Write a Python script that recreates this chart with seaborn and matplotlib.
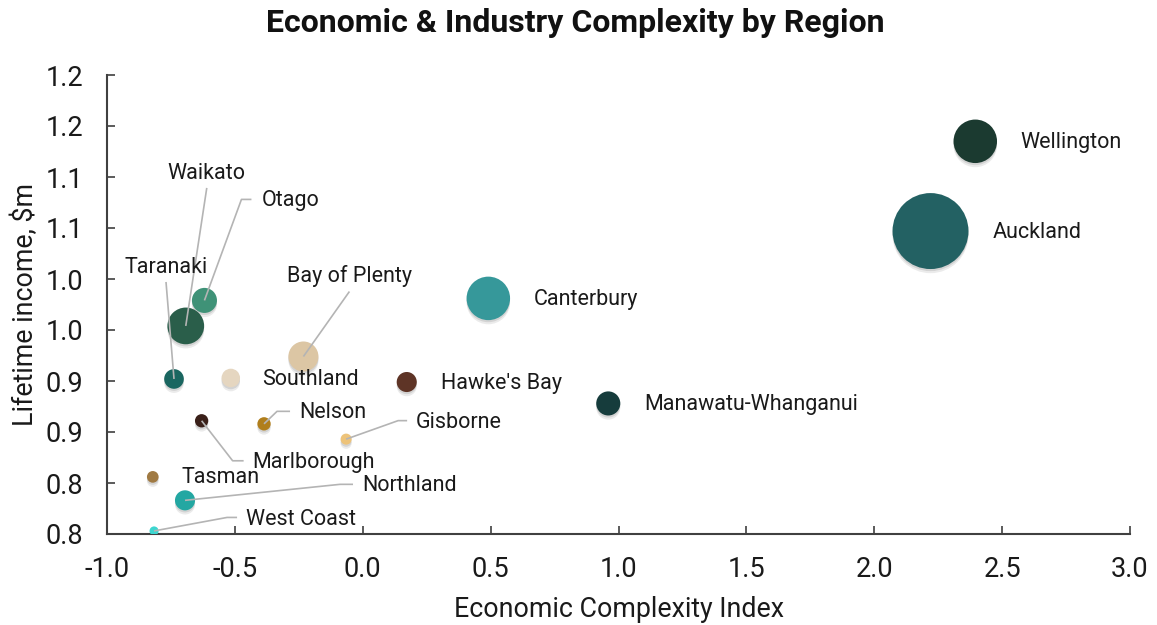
import numpy as np
import pandas as pd
import matplotlib
matplotlib.use("Agg")
import matplotlib.pyplot as plt
import matplotlib.patheffects as pe
import seaborn as sns

# =========================
# Data
# =========================
regions = ["Auckland", "Wellington", "Canterbury", "Waikato", "Bay of Plenty", "Otago",
           "Manawatu-Whanganui", "Northland", "Hawke's Bay", "Taranaki", "Southland",
           "Nelson", "Marlborough", "Tasman", "Gisborne", "West Coast"]
eci = [2.220, 2.395, 0.491, -0.692, -0.232, -0.619, 0.960, -0.695, 0.172, -0.738, -0.516,
       -0.386, -0.630, -0.821, -0.065, -0.816]
income = [1.047, 1.135, 0.981, 0.954, 0.924, 0.979, 0.878, 0.783, 0.899, 0.902, 0.903,
          0.858, 0.861, 0.806, 0.843, 0.753]
bubble = [1690, 554, 554, 395, 265, 184, 170, 118, 118, 113, 100, 52, 52, 40, 36, 24]

colors = ["#236163", "#1b3a30", "#36989a", "#2a5e4a", "#dcc6a4", "#3f9277",
          "#163c3c", "#23a7a2", "#5e3426", "#1a6660", "#e5d6c0",
          "#b07e1c", "#3a2019", "#a07a43", "#edc37a", "#3dd6d0"]

x_ticks = [-1.0, -0.5, 0.0, 0.5, 1.0, 1.5, 2.0, 2.5, 3.0]
x_tick_labels = ["-1.0", "-0.5", "0.0", "0.5", "1.0", "1.5", "2.0", "2.5", "3.0"]
y_ticks = [0.75, 0.80, 0.85, 0.90, 0.95, 1.00, 1.05, 1.10, 1.15, 1.20]
y_tick_labels = ["0.8", "0.8", "0.9", "0.9", "1.0", "1.0", "1.1", "1.1", "1.2", "1.2"]

df = pd.DataFrame({"Region": regions, "ECI": eci, "Income": income, "Size": bubble})

# label layout: text offset (px, y down) + leader path offsets
labels = {
    "Wellington": ((45, 0), "left", []),
    "Auckland": ((62, 0), "left", []),
    "Canterbury": ((45, 0), "left", []),
    "Hawke's Bay": ((34, 0), "left", []),
    "Manawatu-Whanganui": ((36, 0), "left", []),
    "Southland": ((31, 0), "left", []),
    "Tasman": ((29, -1), "left", []),
    "Gisborne": ((70, -18), "left", [(52, -18.5), (61, -18.5)]),
    "Nelson": ((35, -13), "left", [(13, -12.5), (26, -12.5)]),
    "Marlborough": ((51, 40), "left", [(31, 40), (42, 40)]),
    "Northland": ((177, -16), "left", [(155, -16), (168, -16)]),
    "West Coast": ((92, -13), "left", [(73, -13.5), (83, -13.5)]),
    "Taranaki": ((-8, -113), "center", [(-8, -97)]),
    "Waikato": ((21, -154), "center", [(21, -138)]),
    "Otago": ((57, -101), "left", [(37, -101), (47, -101)]),
    "Bay of Plenty": ((46, -82), "center", [(46, -65)]),
}

# =========================
# Plot
# =========================
sns.set_style("ticks")
plt.rcParams["font.family"] = ["Roboto", "DejaVu Sans"]
plt.rcParams["axes.unicode_minus"] = False

fig = plt.figure(figsize=(11.57, 6.25), dpi=100)
ax = fig.add_axes([107 / 1157, 1 - 534 / 625, (1130 - 107) / 1157, (534 - 75) / 625])

size_scale = 1.77
sns.scatterplot(data=df, x="ECI", y="Income", hue="Region", palette=dict(zip(regions, colors)),
                size="Size", sizes=(min(bubble) * size_scale, max(bubble) * size_scale),
                linewidth=0, alpha=1, legend=False, ax=ax, zorder=3)
ax.collections[0].set_path_effects([
    pe.SimplePatchShadow(offset=(0, -3), shadow_rgbFace="black", alpha=0.08),
    pe.SimplePatchShadow(offset=(0, -1.5), shadow_rgbFace="black", alpha=0.10),
    pe.Normal()])

ax.set_xlim(-1.0, 3.0)
ax.set_ylim(0.75, 1.20)
ax.set_xticks(x_ticks)
ax.set_xticklabels(x_tick_labels)
ax.set_yticks(y_ticks)
ax.set_yticklabels(y_tick_labels)
ax.tick_params(direction="in", length=6, width=1.2, color="#404040",
               labelsize=19.5, labelcolor="#1a1a1a", pad=16)
ax.tick_params(axis="y", pad=17)
for side in ["left", "bottom"]:
    ax.spines[side].set_color("#404040")
    ax.spines[side].set_linewidth(1.5)
sns.despine(ax=ax)

ax.set_xlabel("Economic Complexity Index", fontsize=19.3, color="#1a1a1a", labelpad=9)
ax.set_ylabel("Lifetime income, $m", fontsize=19.3, color="#1a1a1a", labelpad=5)
fig.text(0.497, 0.963, "Economic & Industry Complexity by Region", ha="center", va="center",
         fontsize=23, fontweight="bold", color="#111111")


def shift(x, y, dx, dy):
    X, Y = ax.transData.transform((x, y))
    return ax.transData.inverted().transform((X + dx, Y - dy))


for _, row in df.iterrows():
    (tdx, tdy), ha, path = labels[row["Region"]]
    if path:
        pts = [(row["ECI"], row["Income"])] + [shift(row["ECI"], row["Income"], a, b) for a, b in path]
        pts = np.array(pts)
        ax.plot(pts[:, 0], pts[:, 1], color="#b4b4b4", lw=1.2, zorder=4, solid_capstyle="butt")
    tx, ty = shift(row["ECI"], row["Income"], tdx, tdy + 1.5)
    ax.text(tx, ty, row["Region"], ha=ha, va="center", fontsize=15.5, color="#1a1a1a", zorder=5)

fig.savefig("out.png", dpi=100)
